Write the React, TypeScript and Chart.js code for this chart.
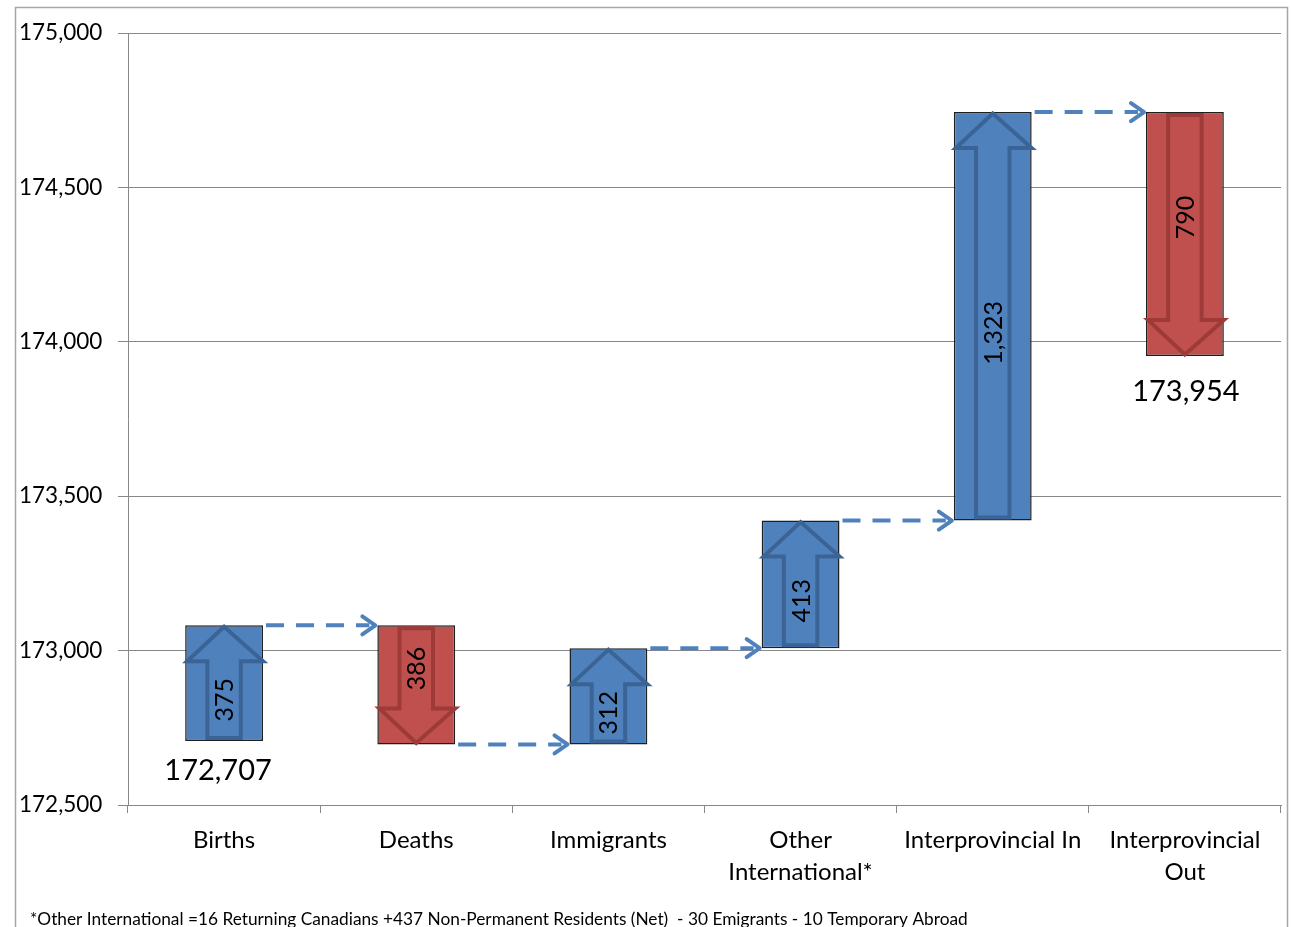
import React, { useEffect, useRef } from 'react';
import { Chart, registerables } from 'chart.js';

Chart.register(...registerables);

const categories: string[][] = [
  ['Births'],
  ['Deaths'],
  ['Immigrants'],
  ['Other', 'International*'],
  ['Interprovincial In'],
  ['Interprovincial', 'Out'],
];
const startPopulation = 172707;
const changes = [375, -386, 312, 413, 1323, -790];
const yMin = 172500;
const yMax = 175000;
const yStep = 500;
const footnote =
  '*Other International =16 Returning Canadians +437 Non-Permanent Residents (Net)  - 30 Emigrants - 10 Temporary Abroad';

const BLUE = '#4F81BD';
const RED = '#C0504D';
const BLUE_DARK = '#3B6496';
const RED_DARK = '#9E3B38';
const GRID = '#888888';
const FONT = 'Lato, "Open Sans", sans-serif';

const fmt = (v: number) => Math.round(v).toLocaleString('en-US');

// cumulative floating ranges
const ranges: [number, number][] = [];
{
  let cur = startPopulation;
  for (const c of changes) {
    ranges.push([cur, cur + c]);
    cur += c;
  }
}
const endPopulation = ranges[ranges.length - 1][1];

const waterfallPlugin = {
  id: 'waterfallDecor',
  beforeDraw(chart: any) {
    const ctx = chart.ctx as CanvasRenderingContext2D;
    ctx.save();
    ctx.strokeStyle = '#a6a6a6';
    ctx.lineWidth = 1.5;
    ctx.strokeRect(15.5, 7.5, 1272, 1000);
    ctx.restore();
  },
  afterDatasetsDraw(chart: any) {
    const ctx = chart.ctx as CanvasRenderingContext2D;
    const yScale = chart.scales.y;
    const meta = chart.getDatasetMeta(0);
    const els = meta.data as any[];
    ctx.save();
    // arrows inside bars
    els.forEach((el, i) => {
      const up = changes[i] > 0;
      const w = el.width;
      const cx = el.x;
      const L = cx - w / 2;
      const R = cx + w / 2;
      const pStart = yScale.getPixelForValue(ranges[i][0]);
      const pEnd = yScale.getPixelForValue(ranges[i][1]);
      const T = Math.min(pStart, pEnd);
      const B = Math.max(pStart, pEnd);
      const headH = 36;
      const sh = w * 0.215;
      ctx.beginPath();
      if (up) {
        ctx.moveTo(cx, T + 1.5);
        ctx.lineTo(R, T + headH);
        ctx.lineTo(cx + sh, T + headH);
        ctx.lineTo(cx + sh, B - 3);
        ctx.lineTo(cx - sh, B - 3);
        ctx.lineTo(cx - sh, T + headH);
        ctx.lineTo(L + 2, T + headH);
      } else {
        ctx.moveTo(cx, B - 1.5);
        ctx.lineTo(R, B - headH);
        ctx.lineTo(cx + sh, B - headH);
        ctx.lineTo(cx + sh, T + 3);
        ctx.lineTo(cx - sh, T + 3);
        ctx.lineTo(cx - sh, B - headH);
        ctx.lineTo(L + 2, B - headH);
      }
      ctx.closePath();
      ctx.lineWidth = 4;
      ctx.lineJoin = 'miter';
      ctx.strokeStyle = up ? BLUE_DARK : RED_DARK;
      ctx.stroke();

      // value label, rotated
      const ly = up ? (T + headH + B - 3) / 2 : (T + 3 + B - headH) / 2;
      ctx.save();
      ctx.translate(cx, ly);
      ctx.rotate(-Math.PI / 2);
      ctx.fillStyle = '#000';
      ctx.font = `25px ${FONT}`;
      ctx.textAlign = 'center';
      ctx.textBaseline = 'middle';
      ctx.fillText(fmt(Math.abs(changes[i])), 0, 1);
      ctx.restore();
    });

    // dashed connectors
    for (let i = 0; i < els.length - 1; i++) {
      const a = els[i];
      const b = els[i + 1];
      const y = yScale.getPixelForValue(ranges[i][1]);
      const x1 = a.x + a.width / 2 + 3;
      const x2 = b.x - b.width / 2 - 2;
      ctx.strokeStyle = BLUE;
      ctx.lineWidth = 4;
      ctx.setLineDash([18, 12]);
      ctx.lineCap = 'butt';
      ctx.beginPath();
      ctx.moveTo(x1, y);
      ctx.lineTo(x2 - 6, y);
      ctx.stroke();
      ctx.setLineDash([]);
      ctx.lineCap = 'round';
      ctx.lineJoin = 'round';
      ctx.beginPath();
      ctx.moveTo(x2 - 13, y - 9);
      ctx.lineTo(x2, y);
      ctx.lineTo(x2 - 13, y + 9);
      ctx.stroke();
    }

    // start / end totals
    ctx.fillStyle = '#000';
    ctx.font = `29px ${FONT}`;
    ctx.textAlign = 'center';
    ctx.textBaseline = 'middle';
    const first = els[0];
    const firstBottom = Math.max(
      yScale.getPixelForValue(ranges[0][0]),
      yScale.getPixelForValue(ranges[0][1])
    );
    ctx.fillText(fmt(startPopulation), first.x - 6, firstBottom + 30);
    const n = els.length - 1;
    const last = els[n];
    const lastBottom = Math.max(
      yScale.getPixelForValue(ranges[n][0]),
      yScale.getPixelForValue(ranges[n][1])
    );
    ctx.fillText(fmt(endPopulation), last.x + 1, lastBottom + 36);

    // footnote
    ctx.font = `17.3px ${FONT}`;
    ctx.textAlign = 'left';
    ctx.textBaseline = 'alphabetic';
    ctx.fillText(footnote, 30, 925);
    ctx.restore();
  },
};

export default function App() {
  const canvasRef = useRef<HTMLCanvasElement | null>(null);

  useEffect(() => {
    if (!canvasRef.current) return;
    const chart = new Chart(canvasRef.current, {
      type: 'bar',
      data: {
        labels: categories as any,
        datasets: [
          {
            data: ranges as any,
            backgroundColor: changes.map((c) => (c > 0 ? BLUE : RED)),
            borderColor: '#1f1f1f',
            borderWidth: 1.5,
            borderSkipped: false,
            barPercentage: 0.405,
            categoryPercentage: 1,
          },
        ],
      },
      options: {
        animation: false,
        responsive: true,
        maintainAspectRatio: false,
        layout: { padding: { left: 19, top: 33, right: 10, bottom: 0 } },
        plugins: {
          legend: { display: false },
          tooltip: { enabled: false },
        },
        scales: {
          x: {
            offset: true,
            afterFit: (scale: any) => {
              scale.height = 122;
            },
            grid: {
              display: true,
              offset: true,
              drawOnChartArea: false,
              drawTicks: true,
              tickLength: 8,
              color: GRID,
            },
            border: { display: true, color: GRID, width: 1 },
            ticks: {
              color: '#000',
              padding: 11,
              maxRotation: 0,
              autoSkip: false,
              font: { family: FONT, size: 24, lineHeight: '32px' as any },
            },
          },
          y: {
            min: yMin,
            max: yMax,
            afterFit: (scale: any) => {
              scale.width = 109;
            },
            grid: { color: GRID, tickLength: 10, lineWidth: 1 },
            border: { display: true, color: GRID, width: 1 },
            ticks: {
              stepSize: yStep,
              crossAlign: 'far',
              color: '#000',
              font: { family: FONT, size: 22.5 },
              callback: (v: any) => fmt(Number(v)),
            },
          },
        },
      },
      plugins: [waterfallPlugin],
    });
    return () => chart.destroy();
  }, []);

  return (
    <div
      style={{
        position: 'fixed',
        left: 0,
        top: 0,
        width: 1291,
        height: 927,
        background: '#fff',
        overflow: 'hidden',
      }}
    >
      <canvas ref={canvasRef} />
    </div>
  );
}
